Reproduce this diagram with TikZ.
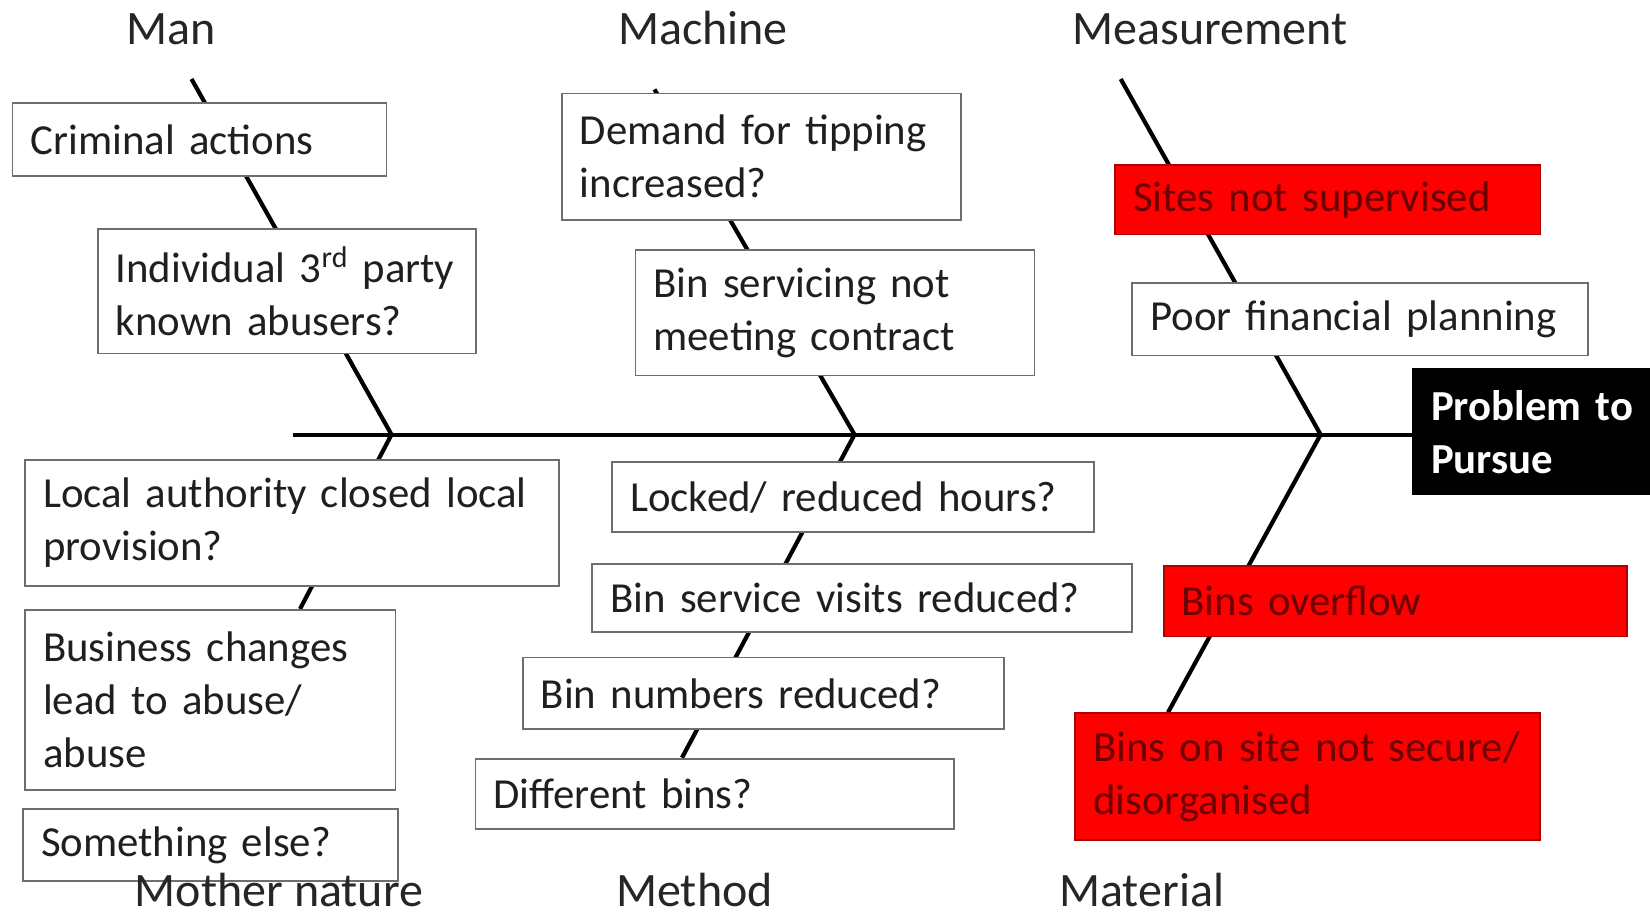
\documentclass[tikz,border=0pt]{standalone}
\usepackage{fontspec}
\setmainfont{Carlito}
\usetikzlibrary{backgrounds}
\hyphenpenalty=10000
\exhyphenpenalty=10000
\definecolor{boxgray}{HTML}{6E6E6E}
\definecolor{redfill}{HTML}{FF0000}
\definecolor{redtext}{HTML}{6A0000}
\definecolor{redborder}{HTML}{B00000}
\tikzset{
  cause/.style={draw=boxgray, line width=0.9pt, fill=white, rectangle, anchor=north west,
    align=left, inner xsep=9pt, inner ysep=2pt,
    font=\fontsize{21.4}{26.5}\selectfont, text=black!88},
  hot/.style={cause, draw=redborder, fill=redfill, text=redtext},
  goal/.style={cause, draw=black, fill=black, text=white,
    font=\fontsize{21.4}{26.5}\selectfont\bfseries},
  head/.style={font=\fontsize{24}{28}\selectfont, text=black!85, inner sep=0pt, anchor=base},
  bone/.style={line width=2.1pt, black},
}
\begin{document}
\begin{tikzpicture}[x=0.5pt,y=-0.5pt]
\useasboundingbox (0,0) rectangle (1650,917);

% bone coordinates
\coordinate (s0) at (292.5,434.6);
\coordinate (tman) at (191.5,79);
\coordinate (jman) at (391.5,434.6);
\coordinate (eman) at (300,609);
\coordinate (tmach) at (654.5,89.4);
\coordinate (jmach) at (854.5,434.6);
\coordinate (emach) at (682,757.7);
\coordinate (tmeas) at (1120.7,79);
\coordinate (jmeas) at (1320.6,434.6);
\coordinate (emeas) at (1168,712.4);

% Man
\node[cause, text width=169pt, minimum height=36.4pt] (crim) at (11.6,102) {Criminal actions};
\node[cause, text width=171pt, minimum height=62.1pt] (indiv) at (96.8,228.3) {\mbox{Individual 3\textsuperscript{rd} party}\\known abusers?};
% Machine
\node[cause, text width=181.4pt, minimum height=63.2pt] (demand) at (560.9,92.6) {Demand for tipping\\increased?};
\node[cause, text width=181.5pt, minimum height=62.6pt] (binserv) at (634.5,249.4) {Bin servicing not\\meeting contract};
% Measurement
\node[hot, text width=194.6pt, minimum height=34.7pt] (sites) at (1114.4,164.2) {Sites not supervised};
\node[cause, text width=209.8pt, minimum height=36.3pt] (poor) at (1131.3,282) {Poor financial planning};
% Problem
\node[goal, text width=100.9pt, minimum height=62.6pt] (problem) at (1412.2,368.3) {\mbox{Problem to}\\Pursue};
% Mother nature
\node[cause, text width=248.75pt, minimum height=63.1pt] (local) at (24.2,458.8) {\mbox{Local authority closed local}\\provision?};
\node[cause, text width=167.2pt, minimum height=90pt] (business) at (24.2,609.3) {Business changes\\lead to abuse/\\abuse};
\node[cause, text width=169.3pt, minimum height=35.75pt] (something) at (22.1,808.2) {Something else?};
% Method
\node[cause, text width=223pt, minimum height=35.25pt] (locked) at (611.4,460.9) {Locked/ reduced hours?};
\node[cause, text width=252pt, minimum height=34.2pt] (visits) at (591.4,563) {\mbox{Bin service visits reduced?}};
\node[cause, text width=222.5pt, minimum height=35.8pt] (numbers) at (521.9,656.6) {Bin numbers reduced?};
\node[cause, text width=221.4pt, minimum height=35.25pt] (different) at (474.6,757.7) {Different bins?};
% Material
\node[hot, text width=213.5pt, minimum height=35.25pt] (overflow) at (1162.8,565.1) {Bins overflow};
\node[hot, text width=214.5pt, minimum height=63.15pt] (binsite) at (1074.4,712.4) {\mbox{Bins on site not secure/}\\disorganised};

% category labels
\node[head] (lman) at (171.5,44) {Man};
\node[head] (lmach) at (703,44) {Machine};
\node[head] (lmeas) at (1210,44) {Measurement};
\node[head, text depth=0pt] (lmoth) at (279,906) {Mother nature};
\node[head, text depth=0pt] (lmeth) at (694.5,906) {Method};
\node[head, text depth=0pt] (lmat) at (1141.7,906) {Material};

\begin{scope}[on background layer]
  \draw[bone] (s0) -- (s0 -| problem.west);
  \draw[bone] (tman) -- (jman) -- (eman);
  \draw[bone] (tmach) -- (jmach) -- (emach);
  \draw[bone] (tmeas) -- (jmeas) -- (emeas);
\end{scope}
\end{tikzpicture}
\end{document}
